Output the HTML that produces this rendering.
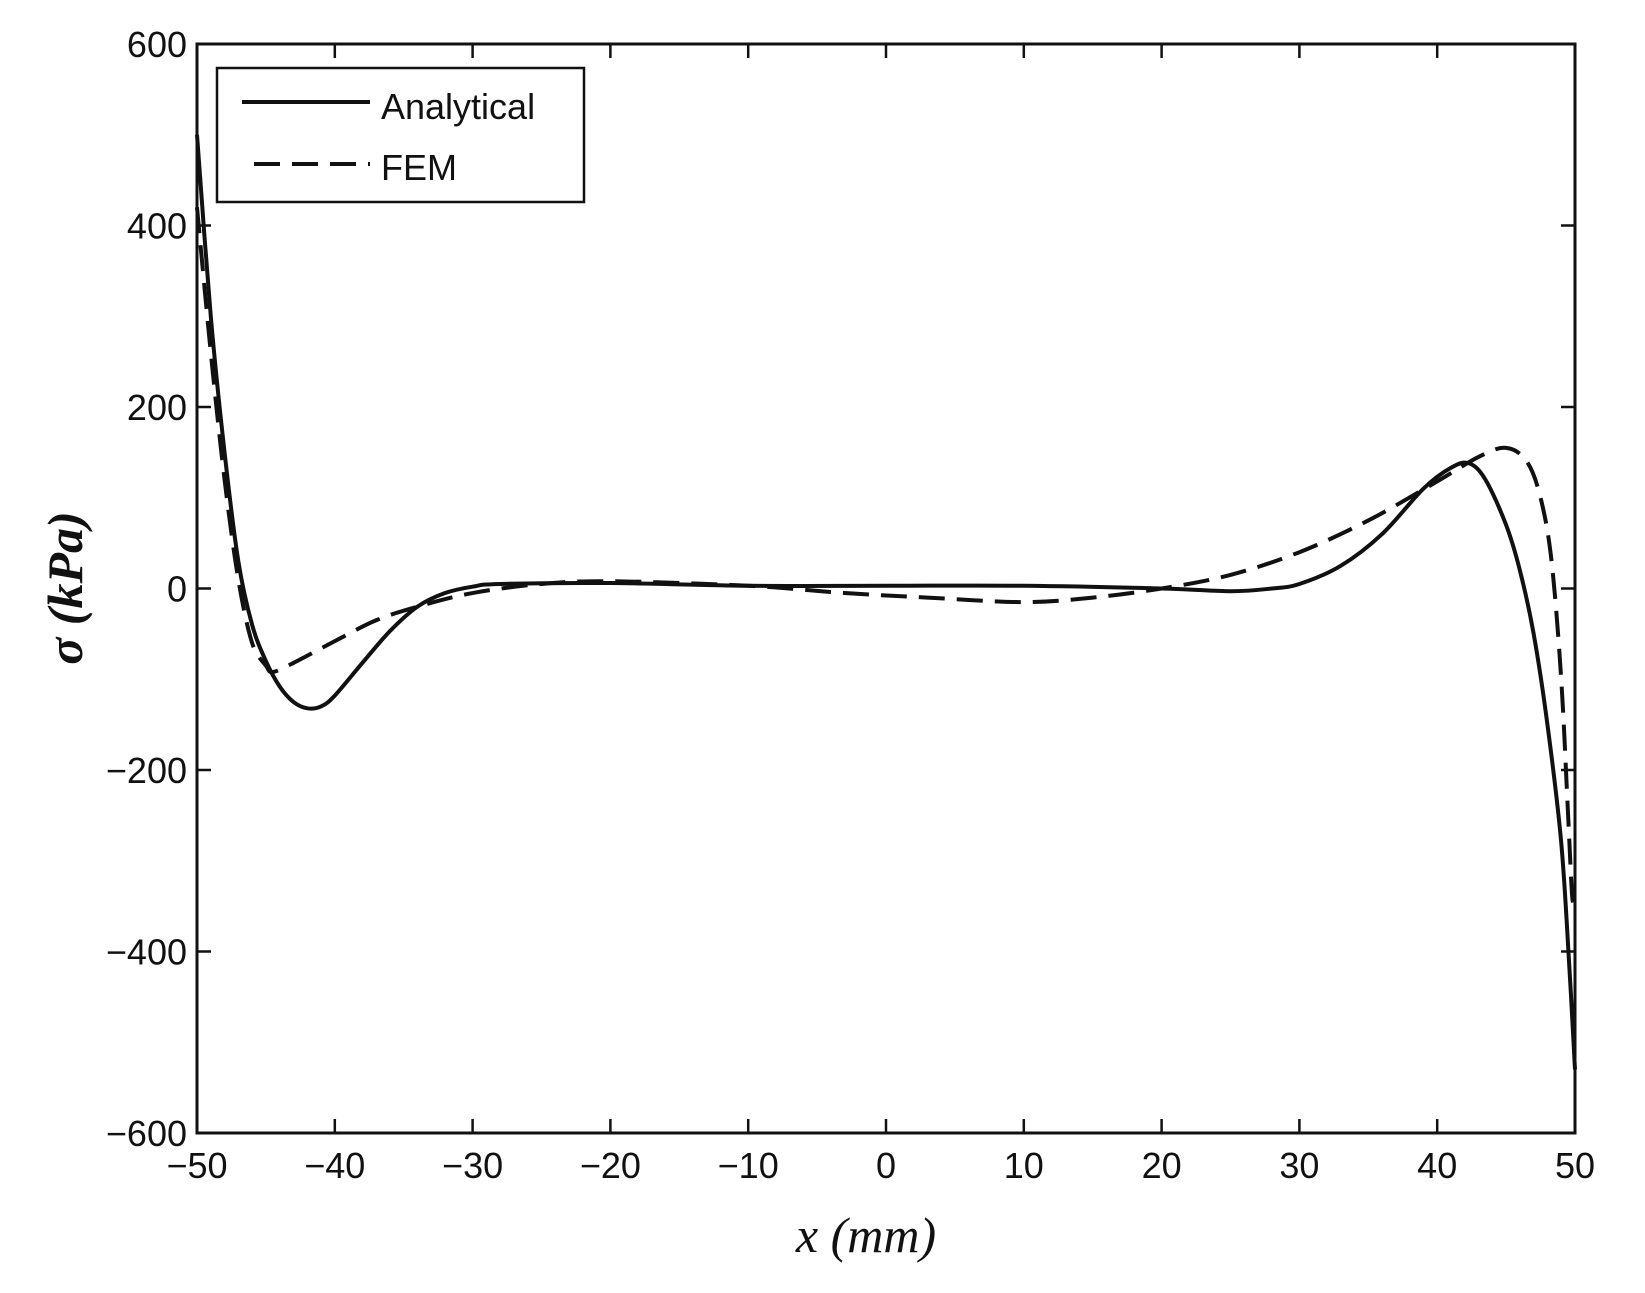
<!DOCTYPE html>
<html><head><meta charset="utf-8"><style>
html,body{margin:0;padding:0;background:#fff;}
svg{display:block;}
text{font-family:"Liberation Sans",sans-serif;fill:#111;}
</style></head><body>
<svg id="s" width="1645" height="1293" viewBox="0 0 1645 1293" xmlns="http://www.w3.org/2000/svg">
<g id="g"></g>
<rect x="197" y="44" width="1378" height="1089" fill="none" stroke="#111" stroke-width="3"/>
<rect x="217" y="68" width="367" height="134" fill="#fff" stroke="#111" stroke-width="2.5"/>
<line x1="242" y1="102" x2="370" y2="102" stroke="#111" stroke-width="4"/>
<line x1="254" y1="164" x2="370" y2="164" stroke="#111" stroke-width="4" stroke-dasharray="26,12"/>
<text x="381" y="119" font-size="36">Analytical</text>
<text x="381" y="180" font-size="36">FEM</text>
<text x="866" y="1252" font-size="50" font-style="italic" text-anchor="middle" style="font-family:'Liberation Serif',serif">x (mm)</text>
<text transform="translate(82,588) rotate(-90)" font-size="50" font-style="italic" font-weight="bold" text-anchor="middle" style="font-family:'Liberation Serif',serif">σ (kPa)</text>
</svg>
<script>
var X0=197,X1=1575,Y0=44,Y1=1133;
function px(x){return X0+(x+50)/100*(X1-X0);}
function py(y){return Y1-(y+600)/1200*(Y1-Y0);}
var g=document.getElementById('g'),h="";
for(var x=-50;x<=50;x+=10){var p=px(x);
h+='<line x1="'+p+'" y1="'+Y1+'" x2="'+p+'" y2="'+(Y1-14)+'" stroke="#111" stroke-width="2.5"/>';
h+='<line x1="'+p+'" y1="'+Y0+'" x2="'+p+'" y2="'+(Y0+14)+'" stroke="#111" stroke-width="2.5"/>';
h+='<text x="'+p+'" y="'+(Y1+45)+'" font-size="36" text-anchor="middle">'+(x<0?'\u2212'+(-x):x)+'</text>';}
for(var y=-600;y<=600;y+=200){var q=py(y);
h+='<line x1="'+X0+'" y1="'+q+'" x2="'+(X0+14)+'" y2="'+q+'" stroke="#111" stroke-width="2.5"/>';
h+='<line x1="'+X1+'" y1="'+q+'" x2="'+(X1-14)+'" y2="'+q+'" stroke="#111" stroke-width="2.5"/>';
h+='<text x="'+(X0-10)+'" y="'+(q+13)+'" font-size="36" text-anchor="end">'+(y<0?'\u2212'+(-y):y)+'</text>';}
function path(pts){var P=pts.map(function(a){return[px(a[0]),py(a[1])];});
var d="M"+P[0][0]+","+P[0][1];
for(var i=0;i<P.length-1;i++){var p0=P[i>0?i-1:i],p1=P[i],p2=P[i+1],p3=P[i+2<P.length?i+2:i+1];
d+=" C"+(p1[0]+(p2[0]-p0[0])/6)+","+(p1[1]+(p2[1]-p0[1])/6)+" "+(p2[0]-(p3[0]-p1[0])/6)+","+(p2[1]-(p3[1]-p1[1])/6)+" "+p2[0]+","+p2[1];}
return d;}
var A=[[-50,500],[-49,300],[-48,150],[-47,30],[-46,-40],[-45,-80],[-44,-108],[-43,-125],[-42,-132],[-41,-130],[-40,-118],[-38,-82],[-36,-47],[-34,-20],[-32,-5],[-30,2],[-28,5],[-20,6],[-10,3],[0,3],[10,3],[20,0],[25,-3],[28,0],[30,5],[33,25],[36,60],[39,110],[41,133],[42.3,138],[43.5,120],[45,70],[46,20],[47,-50],[48,-150],[49,-280],[49.6,-420],[50,-530]];
var F=[[-50,420],[-49,260],[-48,120],[-47,10],[-46,-60],[-45,-85],[-44.5,-92],[-43,-82],[-40,-58],[-37,-35],[-34,-20],[-30,-5],[-25,5],[-20,8],[-10,3],[-3,-5],[3,-10],[10,-15],[15,-10],[20,0],[25,15],[30,40],[35,75],[40,118],[43,145],[45,155],[46.5,140],[47.5,100],[48.3,30],[49,-100],[49.5,-250],[49.8,-340],[50,-340]];
h+='<path d="'+path(A)+'" fill="none" stroke="#111" stroke-width="4"/>';
h+='<path d="'+path(F)+'" fill="none" stroke="#111" stroke-width="4" stroke-dasharray="26,12"/>';
g.innerHTML=h;
</script>
</body></html>
